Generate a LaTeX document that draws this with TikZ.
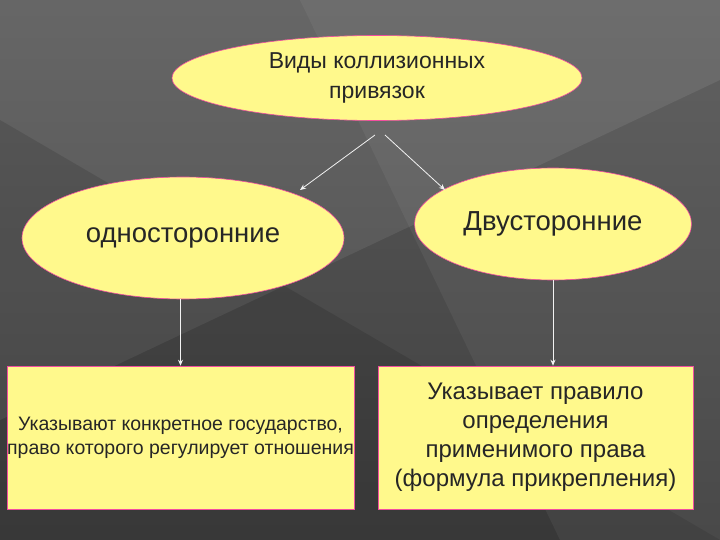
\documentclass[tikz,border=0pt]{standalone}
\usepackage{fontspec}
\setmainfont{Liberation Sans}
\usetikzlibrary{shapes.geometric,arrows.meta}
\begin{document}
\begin{tikzpicture}[x=1pt,y=-1pt,
  oval/.style={ellipse,draw=magenta!60!pink,line width=0.6pt,fill=yellow!45!white,align=center,inner sep=0pt,text=black!85},
  pbox/.style={draw=magenta!60!pink,line width=0.6pt,fill=yellow!45!white,align=center,inner sep=0pt,text=black!85},
  arr/.style={draw=white!90!gray,line width=0.8pt,-{Stealth[length=6pt,width=5pt]}}]
\useasboundingbox (0,0) rectangle (720,540);
\shade[top color=gray!70!black,bottom color=black!75] (0,0) rectangle (720,540);
\fill[white,opacity=0.08] (0,0) -- (720,0) -- (720,80) -- (0,420) -- cycle;
\fill[black,opacity=0.12] (0,120) -- (720,540) -- (0,540) -- cycle;
\fill[white,opacity=0.05] (300,0) -- (720,0) -- (720,540) -- (560,540) -- cycle;
\node[oval,minimum width=410,minimum height=85,font=\fontsize{23}{30}\selectfont] (top) at (377,78) {Виды коллизионных\\привязок};
\node[oval,minimum width=322,minimum height=122,font=\fontsize{27.5}{33}\selectfont] (l) at (183,238) {односторонние};
\node[oval,minimum width=277,minimum height=112,font=\fontsize{27.5}{33}\selectfont] (r) at (553,224) {Двусторонние};
\node[pbox,minimum width=335,minimum height=143,font=\fontsize{19.5}{24}\selectfont] (lb) at (180.5,437.5) {Указывают конкретное государство,\\право которого регулирует отношения};
\node[pbox,minimum width=315,minimum height=143,font=\fontsize{24}{29}\selectfont] (rb) at (535.5,437.5) {Указывает правило\\определения\\применимого права\\(формула прикрепления)};
\coordinate (t1) at (375,135); \coordinate (t2) at (385,135);
\coordinate (e1) at (300,190); \coordinate (e2) at (445,190);
\draw[arr] (t1) -- (e1);
\draw[arr] (t2) -- (e2);
\draw[arr] (l.south -| lb.north) -- (lb.north);
\draw[arr] (r.south) -- (rb.north -| r.south);
\end{tikzpicture}
\end{document}
